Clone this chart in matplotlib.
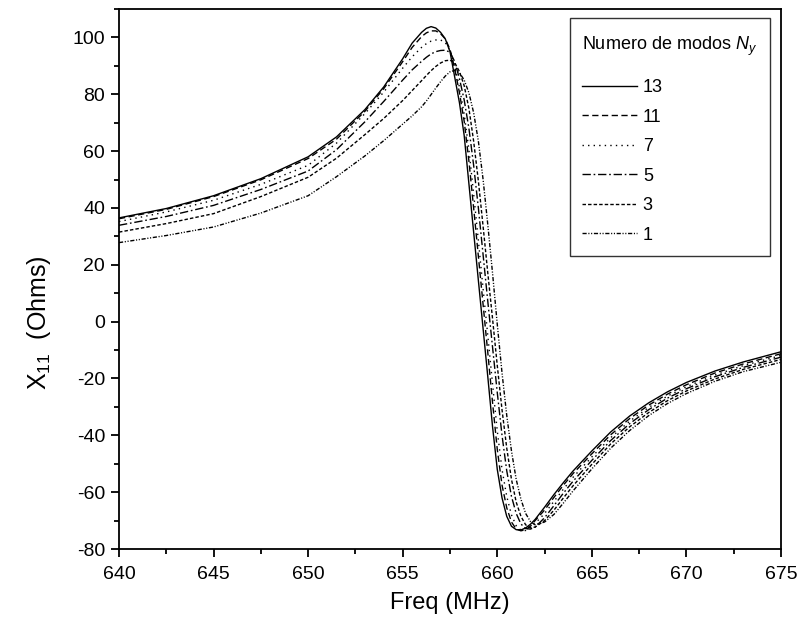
import matplotlib
matplotlib.use("Agg")
import matplotlib.pyplot as plt
from matplotlib.ticker import MultipleLocator
from matplotlib.offsetbox import VPacker, DrawingArea

plt.rcParams['font.family'] = ['Liberation Sans', 'DejaVu Sans']
plt.rcParams['mathtext.fontset'] = 'custom'
plt.rcParams['mathtext.rm'] = 'Liberation Sans'
plt.rcParams['mathtext.it'] = 'Liberation Sans:italic'
plt.rcParams['axes.unicode_minus'] = False

freq = [640, 642.5, 645, 647.5, 650, 651.5, 653, 654, 655, 655.5,
        656, 656.25, 656.5, 656.75, 657, 657.25, 657.5, 657.75, 658, 658.25,
        658.5, 658.75, 659, 659.25, 659.5, 659.75, 660, 660.25, 660.5, 660.75,
        661, 661.25, 661.5, 661.75, 662, 662.5, 663, 663.5, 664, 665,
        666, 667, 668, 669, 670, 671.5, 673, 675]

x_n13 = [36.5, 39.8, 44.3, 50.3, 58.0, 65.0, 74.6, 82.6, 92.5, 98.0,
         101.8, 103.2, 103.8, 103.3, 101.8, 99.5, 95.0, 86.0, 77.0, 65.5,
         48.5, 31.5, 14.5, -2.5, -19.5, -37.0, -52.0, -62.0, -68.5, -72.0,
         -73.2, -73.3, -72.6, -71.3, -69.6, -65.3, -60.8, -56.6, -52.6, -45.5,
         -38.8, -33.2, -28.6, -24.7, -21.4, -17.4, -14.2, -10.6]
x_n11 = [36.2, 39.5, 44.0, 49.9, 57.4, 64.2, 74.0, 82.0, 91.5, 96.5,
         100.3, 101.6, 102.3, 102.3, 101.3, 99.5, 95.8, 89.0, 80.5, 70.5,
         56.5, 40.0, 23.0, 6.0, -11.0, -28.5, -45.0, -57.5, -65.5, -70.5,
         -73.0, -73.6, -73.2, -72.0, -70.0, -66.3, -61.8, -57.5, -53.5, -46.5,
         -39.8, -34.1, -29.4, -25.5, -22.2, -18.1, -14.9, -11.3]
x_n7 = [35.2, 38.6, 42.7, 48.3, 55.0, 62.8, 73.2, 80.8, 89.2, 93.2,
        96.5, 97.8, 98.7, 99.1, 99.1, 98.2, 95.5, 90.0, 82.5, 73.0,
        60.5, 45.0, 28.5, 11.5, -5.0, -22.0, -38.5, -52.0, -61.5, -68.0,
        -71.8, -73.4, -73.5, -72.5, -71.0, -67.5, -63.2, -58.9, -54.8, -47.6,
        -40.8, -35.0, -30.2, -26.2, -22.9, -18.8, -15.5, -11.9]
x_n5 = [33.9, 37.0, 40.9, 46.5, 53.0, 60.5, 70.3, 77.5, 85.0, 88.6,
        91.6, 93.0, 94.2, 95.0, 95.4, 95.5, 94.8, 91.5, 85.5, 78.0,
        68.0, 55.0, 40.0, 23.5, 7.0, -9.0, -25.0, -40.0, -52.5, -61.5,
        -67.5, -71.2, -72.8, -73.0, -72.3, -69.0, -64.7, -60.3, -56.2, -48.8,
        -41.8, -35.9, -31.0, -26.9, -23.6, -19.4, -16.1, -12.5]
x_n3 = [31.5, 34.5, 38.0, 44.0, 50.8, 57.5, 65.8, 71.5, 77.8, 81.3,
        84.8, 86.6, 88.3, 89.8, 91.0, 91.8, 92.0, 91.0, 88.0, 83.0,
        75.0, 63.5, 49.5, 33.5, 17.0, 1.0, -15.5, -31.0, -44.5, -55.5,
        -63.5, -68.5, -71.5, -72.5, -72.3, -70.0, -66.3, -62.0, -57.8, -50.2,
        -43.0, -37.0, -32.0, -27.8, -24.4, -20.2, -16.8, -13.3]
x_n1 = [27.8, 30.3, 33.3, 38.2, 44.3, 51.0, 58.3, 63.7, 69.5, 72.4,
        75.6, 77.6, 79.9, 82.2, 84.4, 86.4, 87.9, 88.4, 87.6, 85.0,
        80.5, 73.5, 63.5, 50.0, 34.0, 17.0, -1.0, -18.0, -33.0, -45.5,
        -55.5, -62.5, -67.5, -70.3, -71.5, -70.5, -67.8, -63.8, -59.6, -51.8,
        -44.5, -38.3, -33.1, -28.8, -25.3, -21.0, -17.6, -14.3]

labels = ['13', '11', '7', '5', '3', '1']
series = [x_n13, x_n11, x_n7, x_n5, x_n3, x_n1]
styles = ['-', (0, (4.5, 2.5)), (0, (1, 3)), (0, (6, 2, 1.2, 2)),
          (0, (2.5, 1.5)), (0, (3, 1.2, 0.8, 1.2, 0.8, 1.2))]

fig = plt.figure(figsize=(7.97, 6.28), dpi=100)
ax = fig.add_axes([119/797, 1-549/628, (781-119)/797, (549-9)/628])

for vals, lab, ls in zip(series, labels, styles):
    ax.plot(freq, vals, color='black', linestyle=ls, linewidth=1.0, label=lab)

ax.set_xlim(640, 675)
ax.set_ylim(-80, 110)
ax.xaxis.set_major_locator(MultipleLocator(5))
ax.xaxis.set_minor_locator(MultipleLocator(2.5))
ax.yaxis.set_major_locator(MultipleLocator(20))
ax.yaxis.set_minor_locator(MultipleLocator(10))
ax.tick_params(which='major', direction='out', length=6, width=1.3, labelsize=14,
               top=False, right=False)
ax.tick_params(axis='x', which='major', pad=6)
ax.tick_params(axis='y', which='major', pad=4)
ax.tick_params(which='minor', direction='out', length=3.5, width=1.3, top=False, right=False)
for sp in ax.spines.values():
    sp.set_linewidth(1.3)

ax.set_xlabel('Freq (MHz)', fontsize=17, labelpad=7)
ax.set_ylabel('X$_{11}$  (Ohms)', fontsize=18, labelpad=10)
ax.yaxis.set_label_coords(-0.10, 0.42)

leg = ax.legend(title='Numero de modos $N_y$', loc='upper right',
                bbox_to_anchor=(1 - 11/662, 1 - 9/540), fontsize=13, title_fontsize=13,
                frameon=True, fancybox=False, edgecolor='black', handlelength=3.05,
                handletextpad=0.3, labelspacing=0.69, borderpad=0.7,
                borderaxespad=0, alignment='left')
leg.get_frame().set_linewidth(1.0)
leg._legend_box.sep = 15
try:
    tb = leg._legend_box._children[0]
    leg._legend_box._children[0] = VPacker(children=[DrawingArea(1, 3.3), tb],
                                           pad=0, sep=0, align='left')
except Exception:
    pass

fig.savefig('out.png', dpi=100)
